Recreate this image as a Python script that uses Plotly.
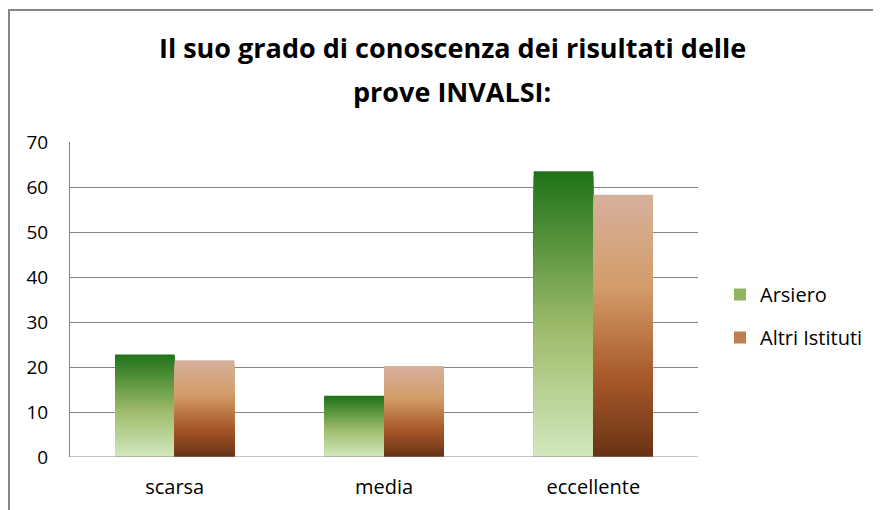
import plotly.graph_objects as go

categories = ["scarsa", "media", "eccellente"]
arsiero = [22.8, 13.6, 63.5]
altri = [21.5, 20.2, 58.3]
series_names = ["Arsiero", "Altri Istituti"]
y_ticks = [0, 10, 20, 30, 40, 50, 60, 70]
title_lines = ["Il suo grado di conoscenza dei risultati delle", "prove INVALSI:"]

# gradient stops (bottom -> top)
green_stops = [(0.0, (210, 232, 190)), (0.45, (157, 187, 106)), (1.0, (30, 114, 24))]
brown_stops = [(0.0, (104, 50, 20)), (0.3, (168, 88, 42)), (0.65, (211, 157, 106)), (1.0, (214, 176, 156))]

# the page body adds an 8px offset; the figure is sized to fill the rest
W, H = 873, 502
ML, MR, MT, MB = 62, 183, 134, 53
PW, PH = W - ML - MR, H - MT - MB
N = 60
FONT = "Open Sans, Noto Sans, sans-serif"


def interp(stops, t):
    for (t0, c0), (t1, c1) in zip(stops[:-1], stops[1:]):
        if t <= t1:
            f = (t - t0) / (t1 - t0) if t1 > t0 else 0
            return "rgb(%d,%d,%d)" % tuple(round(a + (b - a) * f) for a, b in zip(c0, c1))
    return "rgb(%d,%d,%d)" % stops[-1][1]


fig = go.Figure()
for name, vals, stops, grp in [(series_names[0], arsiero, green_stops, "a"),
                               (series_names[1], altri, brown_stops, "b")]:
    # overlaid bars of decreasing height give a vertical colour gradient
    for k in range(N):
        frac = (N - k) / N
        col = interp(stops, (N - k - 0.5) / N)
        fig.add_trace(go.Bar(
            x=categories,
            y=[v * frac for v in vals],
            offsetgroup=grp, legendgroup=grp,
            marker=dict(color=col, line=dict(width=0)),
            showlegend=False,
            hoverinfo="skip",
        ))
    fig.add_trace(go.Bar(
        x=[categories[0]], y=[None], name=name, offsetgroup=grp, legendgroup=grp,
        marker=dict(color=interp(stops, 0.5), line=dict(width=0)),
        showlegend=True,
    ))

fig.update_layout(
    width=W, height=H,
    margin=dict(l=ML, r=MR, t=MT, b=MB, pad=0, autoexpand=False),
    paper_bgcolor="white", plot_bgcolor="white",
    barmode="group", bargap=0.43, bargroupgap=0,
    font=dict(family=FONT, color="#000000", size=20),
    legend=dict(
        x=(712 - ML) / PW, xanchor="left", y=(H - MB - 308) / PH, yanchor="middle",
        font=dict(size=20, family=FONT), tracegroupgap=14, itemwidth=30,
        traceorder="grouped", bgcolor="rgba(0,0,0,0)",
    ),
    showlegend=True,
)

title_y = [40, 84]
for txt, yy in zip(title_lines, title_y):
    fig.add_annotation(
        text="<b>%s</b>" % txt, xref="paper", yref="paper",
        x=(444 - ML) / PW, y=(H - MB - yy) / PH, xanchor="center", yanchor="middle",
        showarrow=False, font=dict(size=27, family=FONT, color="#000000"),
    )

fig.update_xaxes(
    showgrid=False, showline=False, ticks="", tickfont=dict(size=20),
    ticklabelstandoff=16, automargin=False,
)
fig.update_yaxes(
    range=[0, 70], tickvals=y_ticks, showgrid=True, gridcolor="#868686", gridwidth=1,
    showline=True, linecolor="#868686", linewidth=1, ticks="", zeroline=False,
    tickfont=dict(size=19), ticklabelstandoff=17, automargin=False,
)

# outer chart border (runs off the picture on the right and bottom)
fig.add_shape(type="rect", xref="paper", yref="paper",
              x0=(1 - ML) / PW, x1=(W + 20 - ML) / PW,
              y0=(-MB - 20) / PH, y1=(H - MB - 2) / PH,
              line=dict(color="#868686", width=2), layer="above")
fig.add_shape(type="line", xref="paper", yref="y", x0=0, x1=1, y0=0, y1=0,
              line=dict(color="#868686", width=1))

fig.write_html("out.html")
